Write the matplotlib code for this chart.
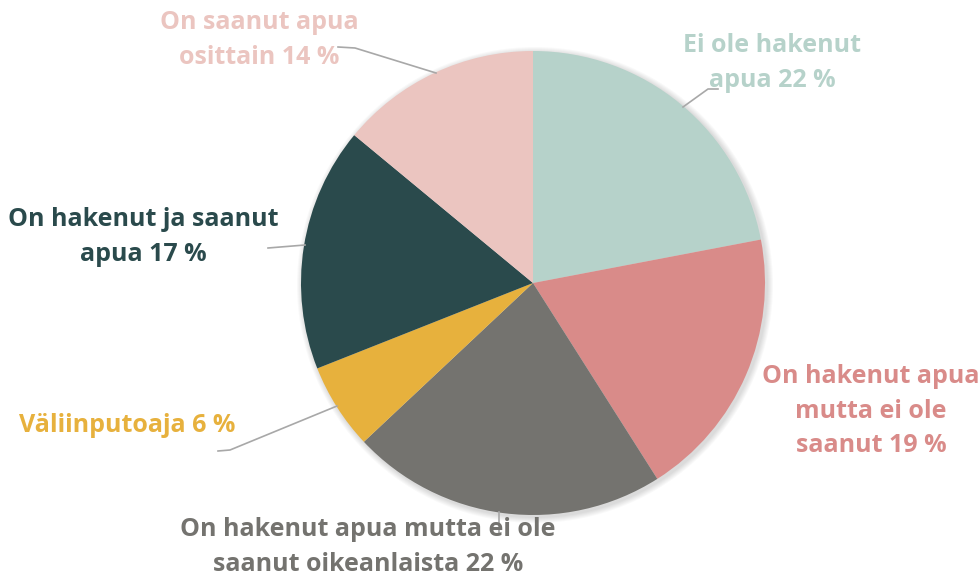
import matplotlib.pyplot as plt
from matplotlib.patches import Circle

labels = ["Ei ole hakenut\napua 22 %",
          "On hakenut apua\nmutta ei ole\nsaanut 19 %",
          "On hakenut apua mutta ei ole\nsaanut oikeanlaista 22 %",
          "Väliinputoaja 6 %",
          "On hakenut ja saanut\napua 17 %",
          "On saanut apua\nosittain 14 %"]
values = [22, 19, 22, 6, 17, 14]
colors = ["#B6D2CA", "#D98B89", "#74736F", "#E7B13D", "#2A4A4C", "#EBC5C0"]

# label positions (pixel coords, y from top) and leader lines
label_pos = [(772, 63), (871, 411), (368, 547), (127, 425), (143, 237), (259, 40)]
leaders = [
    [(718, 89), (708, 89), (683, 107)],
    None,
    [(499, 512), (499, 533)],
    [(218, 451), (230, 450), (337, 406)],
    [(268, 248), (305, 245)],
    [(338, 47), (355, 48), (436, 73)],
]

W, H = 980, 576
cx, cy, r = 533, 283, 232

fig = plt.figure(figsize=(9.8, 5.76), dpi=100)
ax = fig.add_axes([0, 0, 1, 1])

# soft shadow
for k in range(6):
    ax.add_patch(Circle((cx + 2, H - cy - 2), r + 1 + k, color="black",
                        alpha=0.025, lw=0, zorder=0))

ax.pie(values, colors=colors, startangle=90, counterclock=False,
       center=(cx, H - cy), radius=r, frame=True,
       wedgeprops=dict(linewidth=0))
ax.set_xlim(0, W)
ax.set_ylim(0, H)
ax.set_aspect("equal")
ax.axis("off")

for lab, col, (x, y), ld in zip(labels, colors, label_pos, leaders):
    if ld:
        ax.plot([p[0] for p in ld], [H - p[1] for p in ld],
                color="#A8A8A8", lw=1.2, zorder=3)
    ax.text(x, H - y, lab, color=col, ha="center", va="center",
            fontsize=18, fontweight="bold", family="Open Sans",
            linespacing=1.5, zorder=4)

fig.savefig("out.png", dpi=100, facecolor="white")
